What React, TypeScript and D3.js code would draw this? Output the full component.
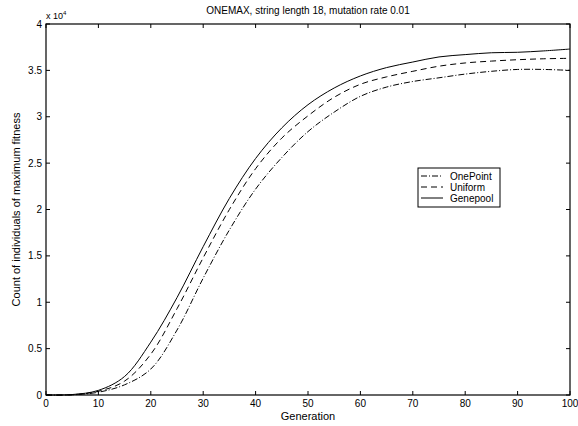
import React from "react";
import * as d3 from "d3";

const generations = [0, 5, 10, 15, 20, 25, 30, 35, 40, 45, 50, 55, 60, 65, 70, 75, 80, 85, 90, 95, 100];
const onePoint = [0, 0.002, 0.03, 0.11, 0.28, 0.7, 1.26, 1.78, 2.22, 2.56, 2.84, 3.05, 3.22, 3.32, 3.38, 3.42, 3.46, 3.49, 3.51, 3.51, 3.5];
const uniform = [0, 0.003, 0.04, 0.15, 0.44, 0.93, 1.48, 2.0, 2.44, 2.77, 3.01, 3.21, 3.35, 3.43, 3.49, 3.545, 3.58, 3.6, 3.615, 3.625, 3.63];
const genepool = [0, 0.005, 0.05, 0.2, 0.57, 1.05, 1.6, 2.12, 2.55, 2.88, 3.13, 3.31, 3.44, 3.53, 3.59, 3.645, 3.67, 3.69, 3.695, 3.71, 3.73];
const xTicks = [0, 10, 20, 30, 40, 50, 60, 70, 80, 90, 100];
const yTicks = [0, 0.5, 1, 1.5, 2, 2.5, 3, 3.5, 4];
const seriesNames = ["OnePoint", "Uniform", "Genepool"];

const W = 578, H = 426;
const L = 46, R = 570, T = 24, B = 395;
const font = "Liberation Sans, Arial, Helvetica, sans-serif";

export default function App() {
  const x = d3.scaleLinear().domain([0, 100]).range([L, R]);
  const y = d3.scaleLinear().domain([0, 4]).range([B, T]);
  const line = d3
    .line<number>()
    .x((_, i) => x(generations[i]))
    .y((d) => y(d))
    .curve(d3.curveCatmullRom.alpha(0.5));
  const series = [
    { name: seriesNames[0], data: onePoint, dash: "6,2,1,2" },
    { name: seriesNames[1], data: uniform, dash: "6,4" },
    { name: seriesNames[2], data: genepool, dash: "" },
  ];
  const tick = 4;
  return (
    <svg width={W} height={H} style={{ position: "absolute", left: 0, top: 0 }} fontFamily={font}>
      <rect x={0} y={0} width={W} height={H} fill="#fff" />
      <text x={(L + R) / 2} y={14} fontSize={10} textAnchor="middle">
        ONEMAX, string length 18, mutation rate 0.01
      </text>
      {series.map((s) => (
        <path key={s.name} d={line(s.data) || ""} fill="none" stroke="#000" strokeWidth={1} strokeDasharray={s.dash} />
      ))}
      <rect x={L} y={T} width={R - L} height={B - T} fill="none" stroke="#000" strokeWidth={1.2} />
      {xTicks.map((t) => (
        <g key={"x" + t}>
          <line x1={x(t)} x2={x(t)} y1={B} y2={B - tick} stroke="#000" />
          <line x1={x(t)} x2={x(t)} y1={T} y2={T + tick} stroke="#000" />
          <text x={x(t)} y={407} fontSize={10} textAnchor="middle">{t}</text>
        </g>
      ))}
      {yTicks.map((t) => (
        <g key={"y" + t}>
          <line x1={L} x2={L + tick} y1={y(t)} y2={y(t)} stroke="#000" />
          <line x1={R} x2={R - tick} y1={y(t)} y2={y(t)} stroke="#000" />
          <text x={42} y={y(t) + 3.5} fontSize={10} textAnchor="end">{t}</text>
        </g>
      ))}
      <text x={L} y={19} fontSize={9}>
        x 10<tspan dy={-4} fontSize={6}>4</tspan>
      </text>
      <text x={(L + R) / 2} y={420} fontSize={11} textAnchor="middle">Generation</text>
      <text transform={`translate(20,${(T + B) / 2}) rotate(-90)`} fontSize={11} textAnchor="middle">
        Count of individuals of maximum fitness
      </text>
      <g>
        <rect x={418} y={168} width={82} height={39} fill="#fff" stroke="#000" strokeWidth={1} />
        {series.map((s, i) => (
          <g key={"l" + s.name}>
            <line x1={421} x2={443} y1={176 + i * 11} y2={176 + i * 11} stroke="#000" strokeDasharray={s.dash} />
            <text x={450} y={176 + i * 11 + 3.5} fontSize={10}>{s.name}</text>
          </g>
        ))}
      </g>
    </svg>
  );
}
